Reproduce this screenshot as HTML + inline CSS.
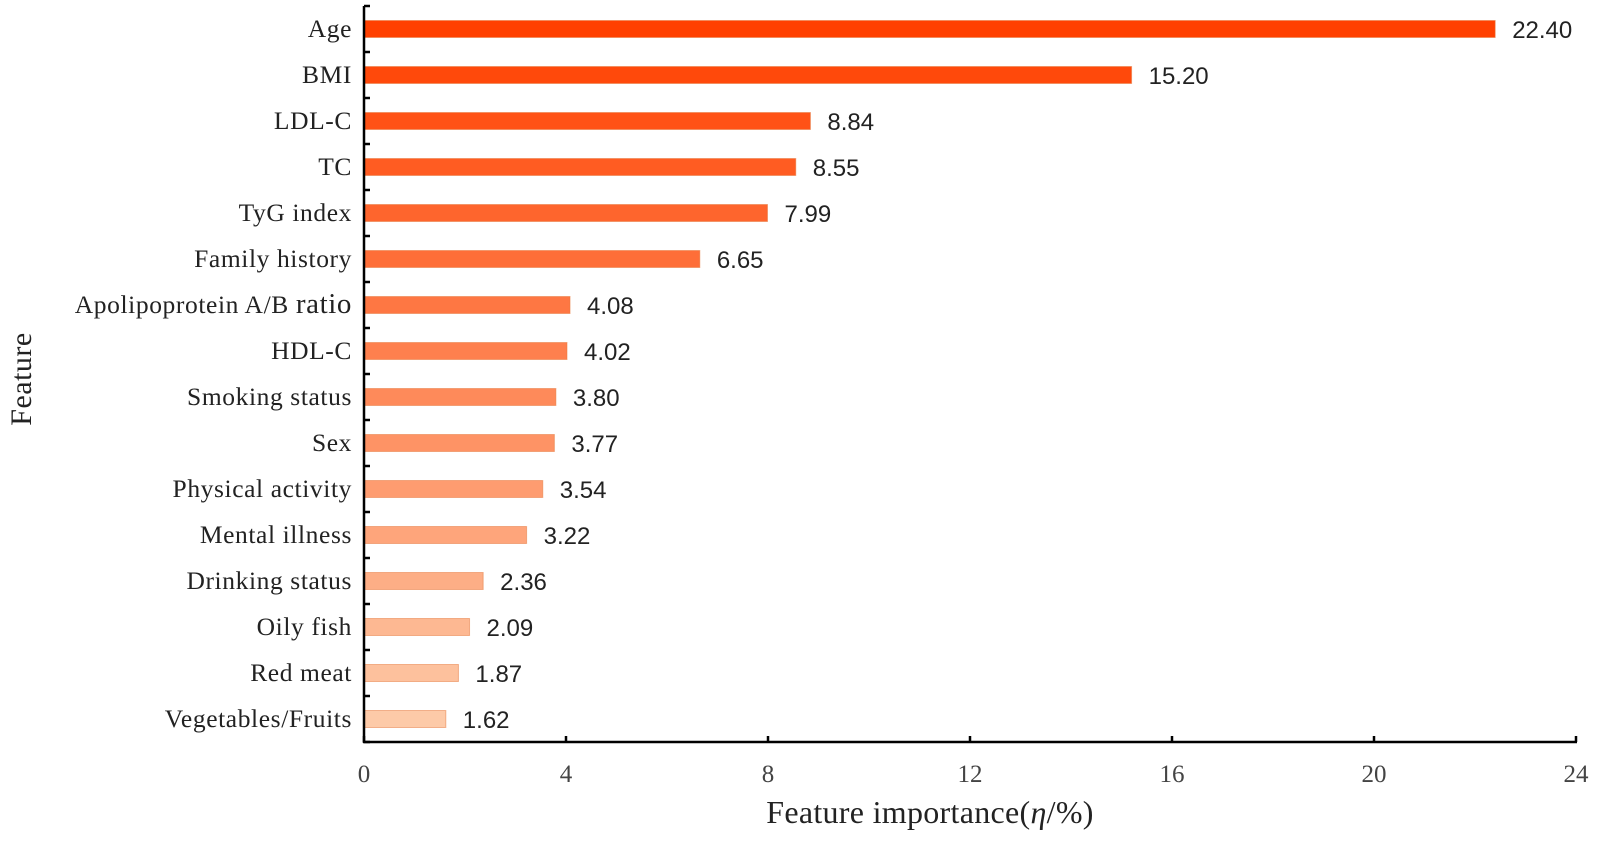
<!DOCTYPE html>
<html><head><meta charset="utf-8"><style>
body{margin:0;background:#fff;width:1598px;height:850px;overflow:hidden}
svg text{font-family:"Liberation Serif",serif}
</style></head><body>
<svg id="chart" width="1598" height="850">
<g id="bars"></g>
<g id="axes"></g>
<text x="930" y="823" font-size="32" text-anchor="middle" fill="#222" letter-spacing="0.3">Feature importance(<tspan font-style="italic">η</tspan>/%)</text>
<text transform="translate(31,379) rotate(-90)" font-size="30" text-anchor="middle" fill="#222" letter-spacing="0.5">Feature</text>
</svg>
<script>
const categories=["Age","BMI","LDL-C","TC","TyG index","Family history","Apolipoprotein A/B ratio","HDL-C","Smoking status","Sex","Physical activity","Mental illness","Drinking status","Oily fish","Red meat","Vegetables/Fruits"];
const values=[22.40,15.20,8.84,8.55,7.99,6.65,4.08,4.02,3.80,3.77,3.54,3.22,2.36,2.09,1.87,1.62];
const valueLabels=["22.40","15.20","8.84","8.55","7.99","6.65","4.08","4.02","3.80","3.77","3.54","3.22","2.36","2.09","1.87","1.62"];
const xTicks=[0,4,8,12,16,20,24];
const NS="http://www.w3.org/2000/svg";
const x0=364,xs=50.5,y0=6,step=46,axisY=742;
const X=v=>x0+v*xs;
const Y=i=>y0+step*(i+0.5);
const bars=document.getElementById('bars'),axes=document.getElementById('axes');
function mk(t,a,p){const e=document.createElementNS(NS,t);for(const k in a)e.setAttribute(k,a[k]);p.appendChild(e);return e;}
const c1=[255,64,0],c2=[253,202,168];
const n=categories.length;
categories.forEach((c,i)=>{
  const t=i/(n-1);
  const col=`rgb(${c1.map((v,j)=>Math.round(v+(c2[j]-v)*t)).join(',')})`;
  const r=mk('rect',{x:X(0),y:Y(i)-8.5,width:X(values[i])-X(0),height:17,fill:col,stroke:'rgba(230,120,60,0.5)','stroke-width':1},bars);
  
  
  const vl=mk('text',{x:X(values[i])+17,y:Y(i)+9,'font-size':24,fill:'#222',style:'font-family:"Liberation Sans",sans-serif'},bars);
  vl.textContent=valueLabels[i];
  
  
  const cl=mk('text',{x:352,y:Y(i)+8,'font-size':25.5,'text-anchor':'end',fill:'#222','letter-spacing':0.6},axes);
  if(c.endsWith(' ratio')){
    cl.textContent=c.slice(0,-5);
    const ts=mk('tspan',{'font-size':29},cl);
    ts.textContent='ratio';
  } else cl.textContent=c;
  
  
});
for(let i=0;i<=n;i++){
  const tk=mk('line',{x1:X(0),x2:X(0)+6,y1:y0+step*i,y2:y0+step*i,stroke:'#000','stroke-width':2.5},axes);
  
  
}
const ya=mk('line',{x1:X(0),x2:X(0),y1:y0,y2:axisY+1,stroke:'#000','stroke-width':2.5},axes);


const xa=mk('line',{x1:X(0)-1,x2:X(24)+1,y1:axisY,y2:axisY,stroke:'#000','stroke-width':2.5},axes);


xTicks.forEach(v=>{
  const tk=mk('line',{x1:X(v),x2:X(v),y1:axisY,y2:axisY-6,stroke:'#000','stroke-width':2.5},axes);
  
  
  const tl=mk('text',{x:X(v),y:782,'font-size':25,'text-anchor':'middle',fill:'#444'},axes);
  tl.textContent=v;
  
  
});
</script>
</body></html>
